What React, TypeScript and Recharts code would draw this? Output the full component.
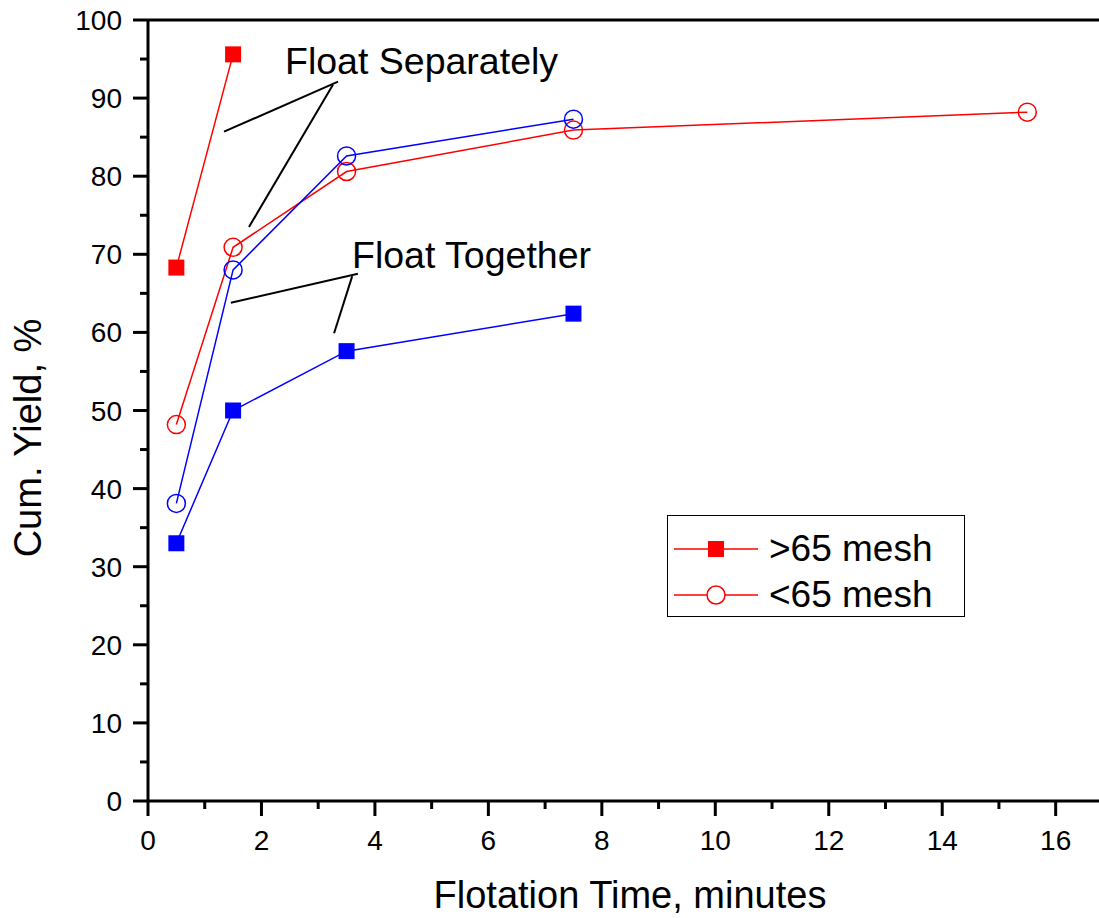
import { LineChart, Line, XAxis, YAxis, ReferenceLine } from "recharts";

// flotation time, minutes
const timeMin = [0.5, 1.5, 3.5, 7.5, 15.5];

// cum. yield, %
const sepCoarse = [68.3, 95.6]; // float separately, >65 mesh
const sepFine = [48.2, 70.9, 80.6, 85.9, 88.2]; // float separately, <65 mesh
const togFine = [38.1, 68.0, 82.6, 87.3]; // float together, <65 mesh
const togCoarse = [33.0, 50.0, 57.6, 62.4]; // float together, >65 mesh

const xTicks = [0, 1, 2, 3, 4, 5, 6, 7, 8, 9, 10, 11, 12, 13, 14, 15, 16, 17];
const yTicks = [0, 5, 10, 15, 20, 25, 30, 35, 40, 45, 50, 55, 60, 65, 70, 75, 80, 85, 90, 95, 100];

// pointer lines from the two notes (data coords)
const sepPointers = [
  [{ x: 1.34, y: 85.7 }, { x: 3.35, y: 92.1 }],
  [{ x: 3.26, y: 91.7 }, { x: 1.78, y: 73.5 }],
];
const togPointers = [
  [{ x: 1.46, y: 63.8 }, { x: 3.7, y: 67.5 }],
  [{ x: 3.6, y: 67.2 }, { x: 3.28, y: 59.9 }],
];

const RED = "#ff0000";
const BLUE = "#0000ff";
const FONT = "'Liberation Sans', Arial, sans-serif";

const toPoints = (vals: number[]) => vals.map((y, i) => ({ x: timeMin[i], y }));

const squareDot = (color: string) => (props: any) => {
  const { cx, cy, index } = props;
  return <rect key={index} x={cx - 8} y={cy - 8} width={16} height={16} fill={color} />;
};

const circleDot = (color: string) => (props: any) => {
  const { cx, cy, index } = props;
  return <circle key={index} cx={cx} cy={cy} r={9} fill="none" stroke={color} strokeWidth={1.5} />;
};

const XTick = (props: any) => {
  const { x, y, payload } = props;
  const major = payload.value % 2 === 0;
  return (
    <g>
      <line x1={x} y1={y} x2={x} y2={y + (major ? 15 : 8)} stroke="#000" strokeWidth={3} />
      {major && (
        <text x={x} y={y + 49} textAnchor="middle" fontSize={28} fontFamily={FONT} fill="#000">
          {payload.value}
        </text>
      )}
    </g>
  );
};

const YTick = (props: any) => {
  const { x, y, payload } = props;
  const major = payload.value % 10 === 0;
  return (
    <g>
      <line x1={x} y1={y} x2={x - (major ? 15 : 8)} y2={y} stroke="#000" strokeWidth={3} />
      {major && (
        <text x={x - 26} y={y + 10} textAnchor="end" fontSize={28} fontFamily={FONT} fill="#000">
          {payload.value}
        </text>
      )}
    </g>
  );
};

const legendItems = [
  { name: ">65 mesh", shape: "square" },
  { name: "<65 mesh", shape: "circle" },
];

const App = () => {
  return (
    <div
      style={{
        position: "absolute",
        left: 0,
        top: 0,
        width: 1099,
        height: 918,
        overflow: "hidden",
        background: "#fff",
        fontFamily: FONT,
      }}
    >
      <LineChart width={1130} height={918} margin={{ top: 20, right: 17.6, bottom: 116, left: 147 }}>
        <XAxis
          type="number"
          dataKey="x"
          domain={[0, 17]}
          ticks={xTicks}
          interval={0}
          height={1}
          tickSize={0}
          tickMargin={0}
          tickLine={false}
          axisLine={{ stroke: "#000", strokeWidth: 3 }}
          tick={<XTick />}
          allowDataOverflow
        />
        <YAxis
          type="number"
          dataKey="y"
          domain={[0, 100]}
          ticks={yTicks}
          interval={0}
          width={1}
          tickSize={0}
          tickMargin={0}
          tickLine={false}
          axisLine={{ stroke: "#000", strokeWidth: 3 }}
          tick={<YTick />}
          allowDataOverflow
        />
        <ReferenceLine y={100} stroke="#000" strokeWidth={3} />
        {sepPointers.concat(togPointers).map((seg, i) => (
          <ReferenceLine key={i} segment={seg} stroke="#000" strokeWidth={2} ifOverflow="visible" />
        ))}
        <Line
          data={toPoints(sepCoarse)}
          dataKey="y"
          stroke={RED}
          strokeWidth={1.5}
          dot={squareDot(RED)}
          isAnimationActive={false}
        />
        <Line
          data={toPoints(sepFine)}
          dataKey="y"
          stroke={RED}
          strokeWidth={1.5}
          dot={circleDot(RED)}
          isAnimationActive={false}
        />
        <Line
          data={toPoints(togFine)}
          dataKey="y"
          stroke={BLUE}
          strokeWidth={1.5}
          dot={circleDot(BLUE)}
          isAnimationActive={false}
        />
        <Line
          data={toPoints(togCoarse)}
          dataKey="y"
          stroke={BLUE}
          strokeWidth={1.5}
          dot={squareDot(BLUE)}
          isAnimationActive={false}
        />
      </LineChart>

      {/* notes */}
      <div style={{ position: "absolute", left: 285, top: 41, fontSize: 37.5, lineHeight: "40px", whiteSpace: "nowrap" }}>
        Float Separately
      </div>
      <div style={{ position: "absolute", left: 352, top: 235, fontSize: 37.5, lineHeight: "40px", whiteSpace: "nowrap" }}>
        Float Together
      </div>

      {/* axis titles */}
      <div
        style={{
          position: "absolute",
          left: 630,
          top: 876,
          transform: "translateX(-50%)",
          fontSize: 38,
          lineHeight: 1,
          whiteSpace: "nowrap",
        }}
      >
        Flotation Time, minutes
      </div>
      <div
        style={{
          position: "absolute",
          left: 28,
          top: 438,
          transform: "translate(-50%, -50%) rotate(-90deg)",
          fontSize: 38,
          lineHeight: 1,
          whiteSpace: "nowrap",
        }}
      >
        Cum. Yield, %
      </div>

      {/* legend */}
      <div
        style={{
          position: "absolute",
          left: 667,
          top: 515,
          width: 298,
          height: 102,
          boxSizing: "border-box",
          border: "1.5px solid #000",
          background: "#fff",
        }}
      >
        {legendItems.map((item, i) => (
          <div
            key={item.name}
            style={{ position: "absolute", left: 6, top: 13 + i * 46, height: 40, display: "flex", alignItems: "center" }}
          >
            <svg width={86} height={40}>
              <line x1={0} y1={20} x2={84} y2={20} stroke={RED} strokeWidth={1.5} />
              {item.shape === "square" ? (
                <rect x={34} y={12} width={16} height={16} fill={RED} />
              ) : (
                <circle cx={42} cy={20} r={9} fill="#fff" stroke={RED} strokeWidth={1.5} />
              )}
            </svg>
            <span style={{ marginLeft: 9, fontSize: 37, lineHeight: "40px", whiteSpace: "nowrap" }}>{item.name}</span>
          </div>
        ))}
      </div>
    </div>
  );
};

export default App;
